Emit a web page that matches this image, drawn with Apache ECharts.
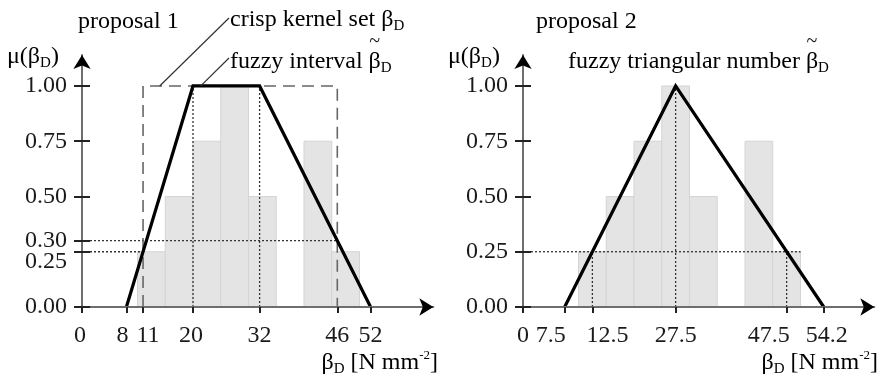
<!DOCTYPE html>
<html><head><meta charset="utf-8">
<script src="https://cdn.jsdelivr.net/npm/echarts@6/dist/echarts.min.js"></script>
<style>html,body{margin:0;padding:0;background:#fff}#c{width:882px;height:378px}</style>
</head><body><div id="c"></div>
<script>
// ---- data ----
const binStarts = [10, 15, 20, 25, 30, 35, 40, 45];
const binWidth = 5;
const binValues = [0.25, 0.5, 0.75, 1.0, 0.5, 0, 0.75, 0.25];
const fuzzy1X = [8, 20, 32, 52];
const fuzzy1Mu = [0, 1, 1, 0];
const fuzzy2X = [7.5, 27.5, 54.2];
const fuzzy2Mu = [0, 1, 0];
const kernelX = [11, 46];
const xTicks1 = [0, 8, 11, 20, 32, 46, 52];
const xTicks2 = [0, 7.5, 12.5, 27.5, 47.5, 54.2];
const yTicks1 = [0, 0.25, 0.3, 0.5, 0.75, 1];
const yTicks2 = [0, 0.25, 0.5, 0.75, 1];
// dotted guide lines [x0, y0, x1, y1]
const guides1 = [[0, 0.3, 46, 0.3], [0, 0.25, 11, 0.25], [20, 0, 20, 1], [32, 0, 32, 1]];
const guides2 = [[0, 0.25, 50, 0.25], [12.5, 0, 12.5, 0.25], [47.5, 0, 47.5, 0.25], [27.5, 0, 27.5, 1]];
const leaderKernel = [14, 1];
const leaderFuzzy = [21.4, 1];
const xMax = 63.3, yMax = 1.14;

// ---- styles ----
const F = "'Liberation Serif','Times New Roman',serif";
const TXT = '#1a1a1a';
const FS = 24;
// horizontal nudges (px) of individual x tick labels, as in the original drawing
const labelShift1 = {0: -2, 8: -4, 11: 5, 20: -2};
const labelShift2 = {7.5: -14, 12.5: 15, 47.5: -18, 54.2: 3};

const rich = {
  n: {fontSize: FS, fontFamily: F, color: TXT, lineHeight: 28},
  s: {fontSize: 15, fontFamily: F, color: TXT, lineHeight: 14, verticalAlign: 'bottom'},
  sup: {fontSize: 13, fontFamily: F, color: TXT, lineHeight: 14, verticalAlign: 'top'},
  lo: {fontSize: FS, fontFamily: F, color: TXT, padding: [20, 0, 0, 0]}
};
function shiftRich(shifts) {
  const r = {};
  Object.keys(shifts).forEach((k, i) => {
    const d = shifts[k];
    r['k' + i] = {fontSize: FS, fontFamily: F, color: TXT,
      padding: d >= 0 ? [0, 0, 0, 2 * d] : [0, -2 * d, 0, 0]};
  });
  return r;
}
function shiftFormatter(shifts) {
  const keys = Object.keys(shifts).map(Number);
  return v => {
    const i = keys.findIndex(k => Math.abs(k - v) < 1e-9);
    return i >= 0 ? '{k' + i + '|' + v + '}' : String(v);
  };
}

const chart = echarts.init(document.getElementById('c'), null, {renderer: 'canvas'});

const grids = [
  {left: 82, top: 55, width: 5.55 * xMax, height: 252},
  {left: 523, top: 55, width: 5.55 * xMax, height: 252}
];

function xAxes(gi, ticks, shifts) {
  return [
    {type: 'value', gridIndex: gi, min: 0, max: xMax, z: 10,
     axisLine: {show: true, onZero: false, lineStyle: {color: '#6e6e6e', width: 2}},
     axisTick: {show: true, customValues: ticks, length: 6, lineStyle: {color: '#222', width: 2}},
     axisLabel: {show: true, customValues: ticks, hideOverlap: false, showMinLabel: true, showMaxLabel: true,
       formatter: shiftFormatter(shifts), rich: shiftRich(shifts),
       fontFamily: F, fontSize: FS, color: TXT, margin: 17},
     splitLine: {show: false}},
    {type: 'value', gridIndex: gi, min: 0, max: xMax, position: 'bottom', z: 11,
     axisLine: {show: true, onZero: false, symbol: ['none', 'arrow'], symbolSize: [13, 14], lineStyle: {color: '#000', width: 0.01}},
     axisTick: {show: false}, axisLabel: {show: false}, splitLine: {show: false}}
  ];
}
function yAxes(gi, ticks, panel) {
  return [
    {type: 'value', gridIndex: gi, min: 0, max: yMax, z: 10, position: 'left',
     axisLine: {show: true, onZero: false, lineStyle: {color: '#6e6e6e', width: 2}},
     axisTick: {show: true, customValues: ticks, length: 8, lineStyle: {color: '#222', width: 2}},
     axisLabel: {show: true, customValues: ticks, hideOverlap: false, fontFamily: F, fontSize: FS, color: TXT, margin: 15, rich: rich,
       formatter: v => (panel === 1 && Math.abs(v - 0.25) < 1e-9) ? '{lo|0.25}' : v.toFixed(2)},
     splitLine: {show: false}},
    {type: 'value', gridIndex: gi, min: 0, max: yMax, z: 11, position: 'left', offset: 0,
     axisLine: {show: true, onZero: false, symbol: ['none', 'arrow'], symbolSize: [13, 14], lineStyle: {color: '#000', width: 0.01}},
     axisTick: {show: true, inside: true, customValues: ticks, length: 8, lineStyle: {color: '#222', width: 2}},
     axisLabel: {show: false}, splitLine: {show: false}}
  ];
}

const histData = binStarts.map((s, i) => [s, s + binWidth, binValues[i]]).filter(d => d[2] > 0);

function histSeries(ai) {
  return {
    type: 'custom', xAxisIndex: ai, yAxisIndex: ai, z: 1, silent: true,
    encode: {x: [0, 1], y: 2},
    data: histData,
    renderItem(params, api) {
      const p0 = api.coord([api.value(0), api.value(2)]);
      const p1 = api.coord([api.value(1), 0]);
      return {type: 'rect', shape: {x: p0[0], y: p0[1], width: p1[0] - p0[0], height: p1[1] - p0[1]},
        style: {fill: '#e4e4e4', stroke: '#d4d4d4', lineWidth: 1}};
    }
  };
}
function guideSeries(ai, guides) {
  return guides.map(g => ({
    type: 'line', xAxisIndex: ai, yAxisIndex: ai, z: 3, silent: true, symbol: 'none',
    lineStyle: {color: '#333', width: 1.3, type: [2, 2]},
    data: [[g[0], g[1]], [g[2], g[3]]]
  }));
}
function fuzzySeries(ai, xs, mus) {
  return {type: 'line', xAxisIndex: ai, yAxisIndex: ai, z: 5, silent: true, symbol: 'none',
    lineStyle: {color: '#000', width: 3.2, join: 'miter'},
    data: xs.map((x, i) => [x, mus[i]])};
}

const series = [
  histSeries(0),
  ...guideSeries(0, guides1),
  {type: 'line', xAxisIndex: 0, yAxisIndex: 0, z: 4, silent: true, symbol: 'none',
   lineStyle: {color: '#666', width: 1.6, type: [12, 7]},
   data: [[kernelX[0], 0], [kernelX[0], 1], [kernelX[1], 1], [kernelX[1], 0]]},
  fuzzySeries(0, fuzzy1X, fuzzy1Mu),
  histSeries(2),
  ...guideSeries(2, guides2),
  fuzzySeries(2, fuzzy2X, fuzzy2Mu)
];

chart.setOption({
  animation: false,
  backgroundColor: '#fff',
  grid: grids,
  xAxis: [...xAxes(0, xTicks1, labelShift1), ...xAxes(1, xTicks2, labelShift2)],
  yAxis: [...yAxes(0, yTicks1, 1), ...yAxes(1, yTicks2, 2)],
  series: series
});

// text measurement for placing the tilde over beta
const mctx = document.createElement('canvas').getContext('2d');
mctx.font = FS + 'px ' + F;
function tw(s) { return mctx.measureText(s).width; }

function txt(x, y, text, align) {
  return {type: 'text', z: 20, silent: true, x: x, y: y,
    style: {text: text, rich: rich, align: align || 'left', verticalAlign: 'middle'}};
}
function tilde(x0, prefix, y) {
  const cx = x0 + tw(prefix) + tw('β') / 2;
  return {type: 'text', z: 20, silent: true, x: cx, y: y,
    style: {text: '~', fontSize: 20, fontFamily: F, fill: TXT, align: 'center', verticalAlign: 'middle'}};
}
const pk = chart.convertToPixel({xAxisIndex: 0, yAxisIndex: 0}, leaderKernel);
const pf = chart.convertToPixel({xAxisIndex: 0, yAxisIndex: 0}, leaderFuzzy);
chart.setOption({
  graphic: [
    txt(78, 22, '{n|proposal 1}'),
    txt(230, 20, '{n|crisp kernel set β}{s|D}'),
    txt(230, 62, '{n|fuzzy interval β}{s|D}'),
    tilde(230, 'fuzzy interval ', 42),
    txt(7, 57, '{n|μ(β}{s|D}{n|)}'),
    txt(438, 363, '{n|β}{s|D}{n| [N mm}{sup|-2}{n|]}', 'right'),
    txt(536, 22, '{n|proposal 2}'),
    txt(568, 62, '{n|fuzzy triangular number β}{s|D}'),
    tilde(568, 'fuzzy triangular number ', 42),
    txt(448, 57, '{n|μ(β}{s|D}{n|)}'),
    txt(878, 363, '{n|β}{s|D}{n| [N mm}{sup|-2}{n|]}', 'right'),
    {type: 'line', z: 20, silent: true, shape: {x1: 229, y1: 18, x2: pk[0], y2: pk[1]}, style: {stroke: '#333', lineWidth: 1.2}},
    {type: 'line', z: 20, silent: true, shape: {x1: 229, y1: 58, x2: pf[0], y2: pf[1]}, style: {stroke: '#333', lineWidth: 1.2}}
  ]
});
</script></body></html>
